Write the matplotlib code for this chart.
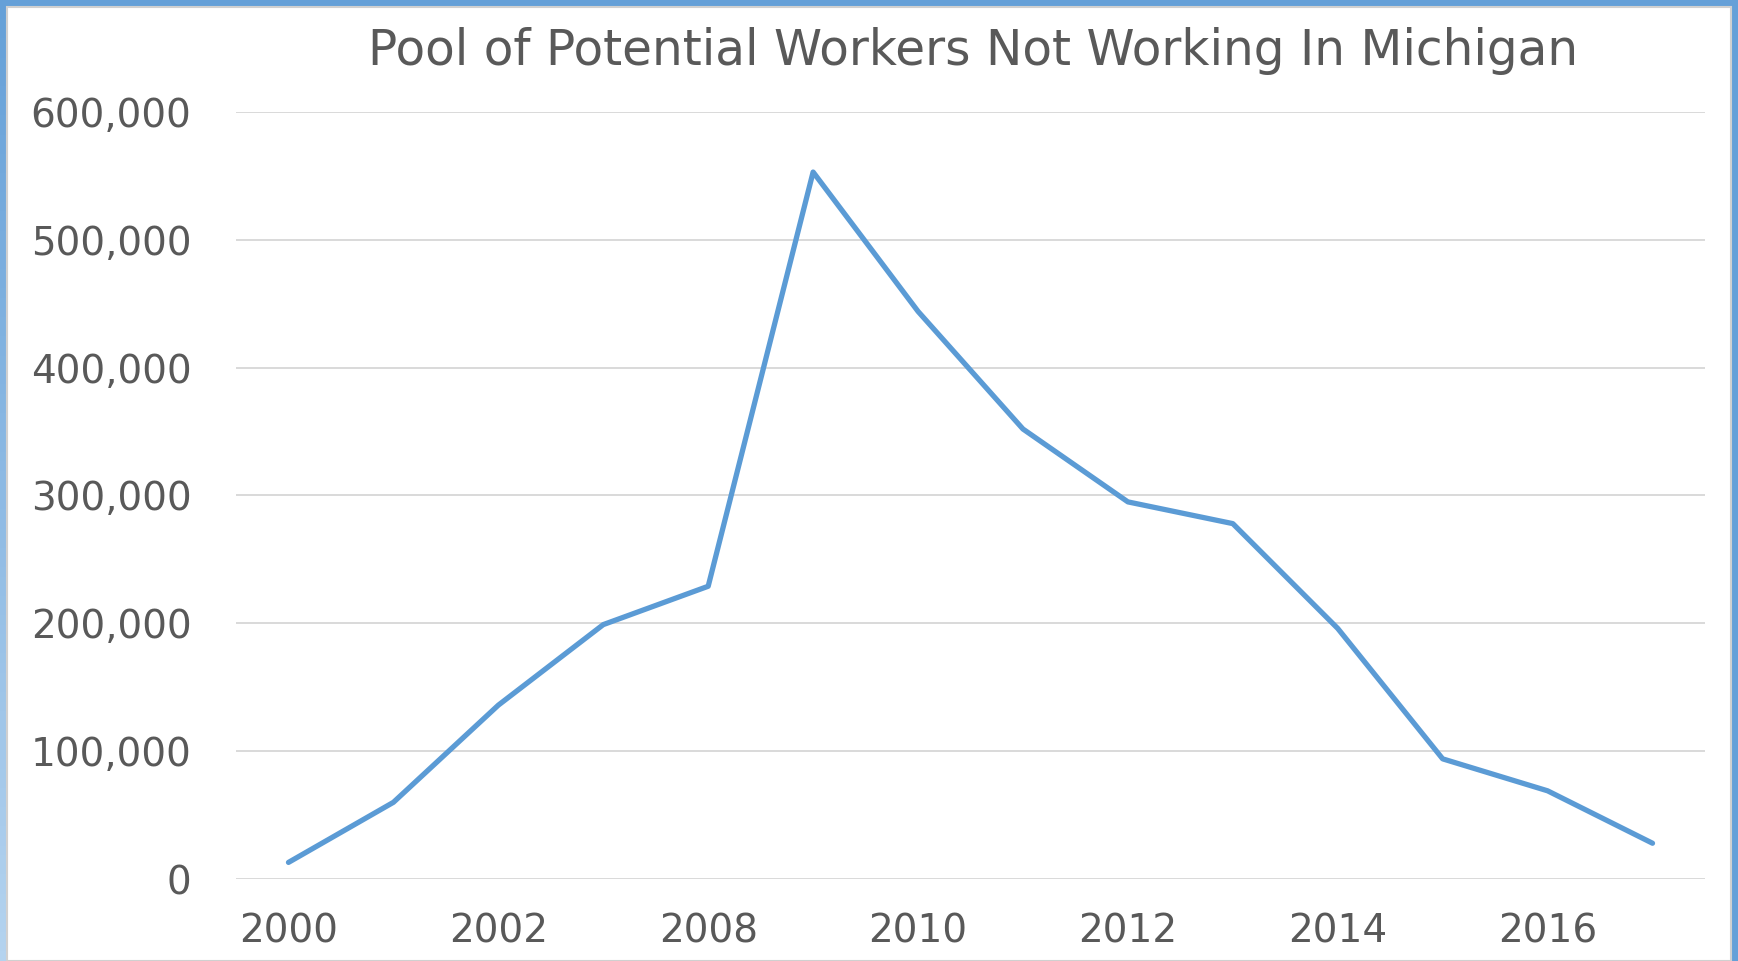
import matplotlib.pyplot as plt
import matplotlib.patches as patches
import numpy as np
from matplotlib.ticker import FuncFormatter

# data
years = ["2000", "2001", "2002", "2007", "2008", "2009", "2010",
         "2011", "2012", "2013", "2014", "2015", "2016", "2017"]
workers = [13000, 60000, 136000, 199000, 229000, 553000, 444000,
           352000, 295000, 278000, 196000, 94000, 69000, 28000]
shown_labels = ["2000", "2002", "2008", "2010", "2012", "2014", "2016"]

plt.rcParams['font.family'] = ['DejaVu Sans']
text_color = "#595959"

fig = plt.figure(figsize=(17.38, 9.61), dpi=100)
ax = fig.add_axes([0.1358, 0.0853, 0.8452, 0.7982])

x = np.arange(len(years))
ax.plot(x, workers, color="#5B9BD5", linewidth=3.8, solid_capstyle="round",
        solid_joinstyle="round", zorder=3)

ax.set_xlim(-0.5, len(years) - 0.5)
ax.set_ylim(0, 600000)
ax.set_yticks(range(0, 600001, 100000))
ax.yaxis.set_major_formatter(FuncFormatter(lambda v, p: f"{int(v):,}"))
ticks = [years.index(y) for y in shown_labels]
ax.set_xticks(ticks)
ax.set_xticklabels(shown_labels)

ax.grid(axis="y", color="#D9D9D9", linewidth=1.4, zorder=1)
for s in ax.spines.values():
    s.set_visible(False)
ax.tick_params(axis="both", length=0, labelsize=28, colors=text_color)
ax.tick_params(axis="y", pad=32)
ax.tick_params(axis="x", pad=24)

fig.text(0.56, 0.947, "Pool of Potential Workers Not Working In Michigan",
         ha="center", va="center", fontsize=35, color=text_color)

# window frame around the chart
fig.add_artist(patches.Rectangle((0, 1 - 6 / 961), 1, 6 / 961,
                                 transform=fig.transFigure, color="#65A0D8", lw=0))
fig.add_artist(patches.Rectangle((1 - 6 / 1738, 0), 6 / 1738, 1,
                                 transform=fig.transFigure, color="#65A0D8", lw=0))
grad = fig.add_axes([0, 0, 7 / 1738, 1])
grad.imshow(np.linspace(0, 1, 100).reshape(-1, 1), aspect="auto",
            cmap=plt.matplotlib.colors.LinearSegmentedColormap.from_list(
                "edge", ["#65A0D8", "#B4D3EF"]))
grad.axis("off")
fig.add_artist(patches.Rectangle((7 / 1738, 0), 1 - 14 / 1738, 1 - 7 / 961,
                                 transform=fig.transFigure, fill=False,
                                 edgecolor="#D0D0D0", lw=1.5))

fig.savefig("out.png", dpi=100)
